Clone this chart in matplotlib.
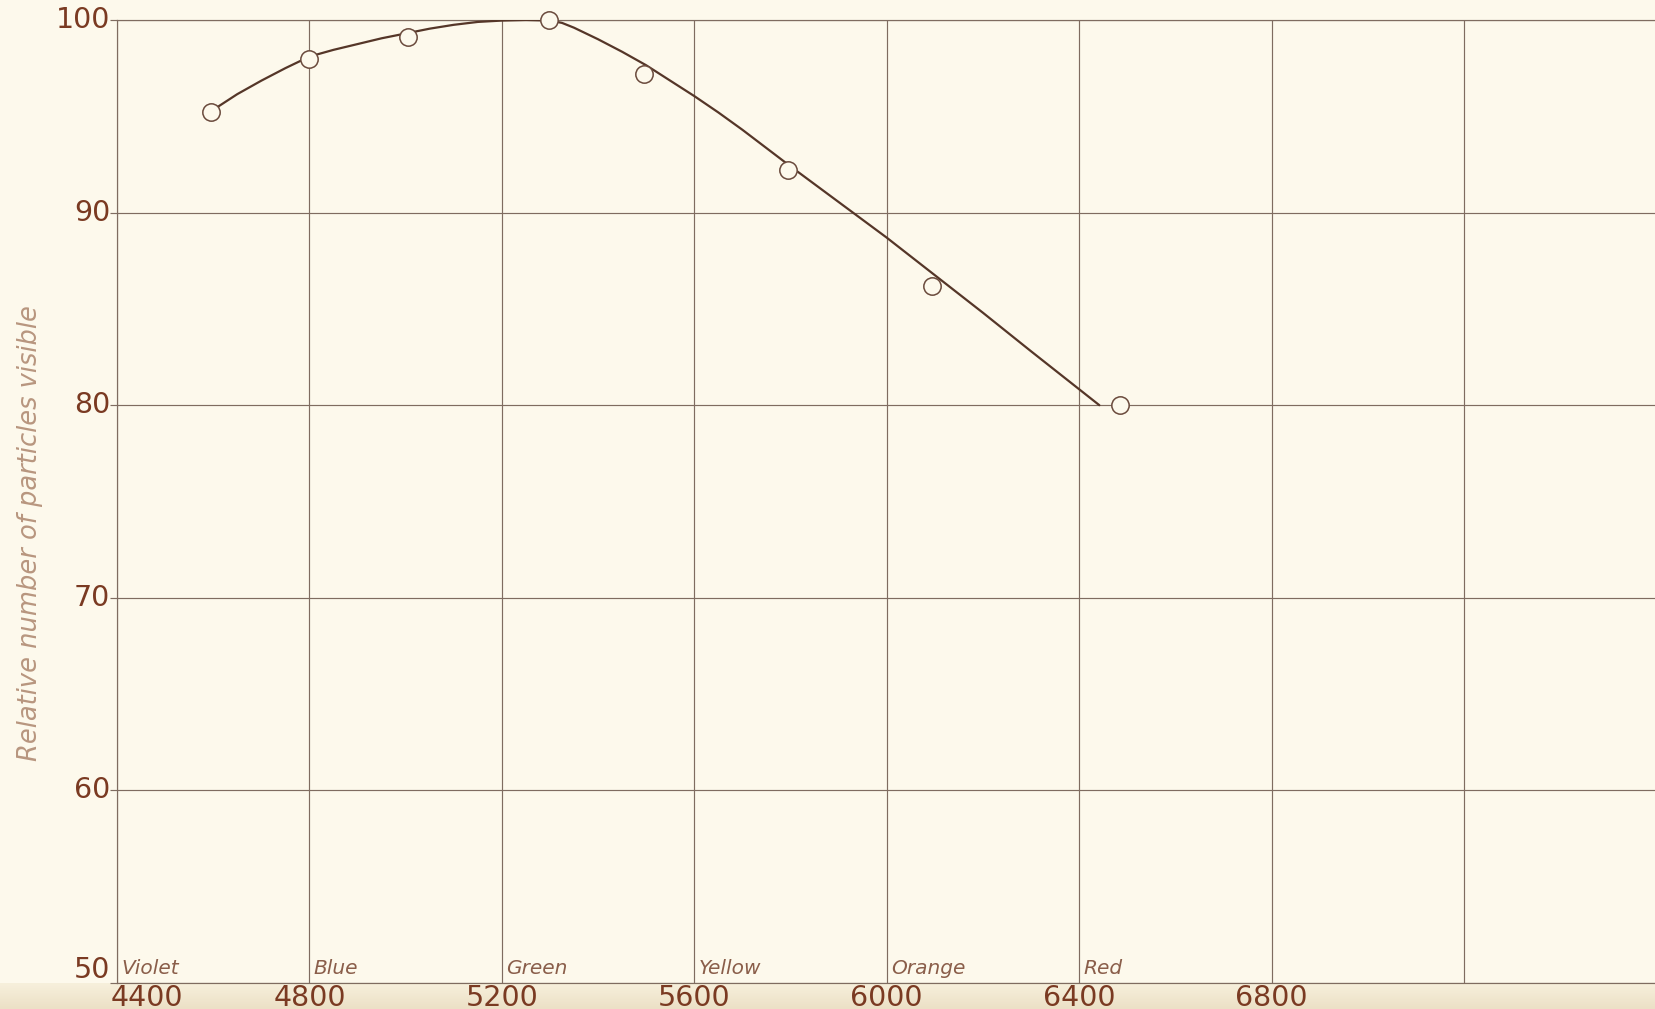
import numpy as np
import matplotlib
matplotlib.use("Agg")
import matplotlib.pyplot as plt
from matplotlib.transforms import offset_copy

# Relative visibility of particles against wavelength (Angstrom)
obs_wavelength = [4595, 4800, 5005, 5298, 5495, 5795, 6095, 6485]
obs_visible = [95.2, 98.0, 99.1, 100.0, 97.2, 92.2, 86.2, 80.0]

# Hand-faired curve through the observations
curve_wavelength = [4610, 4650, 4700, 4750, 4800, 4850, 4900, 4950, 5000,
                    5050, 5100, 5150, 5200, 5250, 5300, 5325, 5350, 5400,
                    5450, 5500, 5550, 5600, 5650, 5700, 5800, 5900, 6000,
                    6100, 6200, 6300, 6442]
curve_visible = [95.5, 96.15, 96.85, 97.5, 98.1, 98.45, 98.75, 99.05, 99.3,
                 99.55, 99.75, 99.9, 99.97, 100.0, 99.97, 99.85, 99.6, 99.0,
                 98.35, 97.65, 96.85, 96.05, 95.2, 94.3, 92.4, 90.55, 88.7,
                 86.75, 84.8, 82.8, 80.0]

x_ticks = [4400, 4800, 5200, 5600, 6000, 6400, 6800]
x_grid = [4400, 4800, 5200, 5600, 6000, 6400, 6800, 7200]
y_ticks = [50, 60, 70, 80, 90, 100]
colour_names = ["Violet", "Blue", "Green", "Yellow", "Orange", "Red"]
colour_starts = [4400, 4800, 5200, 5600, 6000, 6400]

PAPER = "#FDF9EC"
GRID = "#7F6C60"
INK = "#553628"
LABEL = "#7A3A22"
NAME = "#8A5E4A"
AXLABEL = "#B8967F"

W, H = 1655, 1009
fig = plt.figure(figsize=(W / 100, H / 100), dpi=100, facecolor=PAPER)

# slightly darker paper below the chart frame
shade = fig.add_axes([0, 0, 1, 26 / H], zorder=0)
grad = np.linspace(0, 1, 50)[:, None, None]
top = np.array([247, 240, 220]) / 255
bot = np.array([236, 224, 198]) / 255
img = top * (1 - grad) + bot * grad
shade.imshow(np.repeat(img, 2, axis=1), aspect="auto", extent=[0, 1, 0, 1],
             origin="upper")
shade.set_axis_off()

left, bottom_px, top_px = 117, 983, 20
ax = fig.add_axes([left / W, (H - bottom_px) / H, (W - left) / W,
                   (bottom_px - top_px) / H], zorder=1)
ax.set_facecolor(PAPER)
ax.set_xlim(4400, 7597)
ax.set_ylim(50, 100)

for s in ["left", "bottom", "top"]:
    ax.spines[s].set_color(GRID)
    ax.spines[s].set_linewidth(0.85)
ax.spines["right"].set_visible(False)

ax.set_xticks(x_grid)
ax.set_yticks(y_ticks)
ax.tick_params(axis="x", length=0, labelbottom=False)
ax.tick_params(axis="y", length=5, width=0.85, color=GRID, labelleft=False)
ax.grid(True, color=GRID, linewidth=0.85)
ax.set_axisbelow(True)

# tick values
for v in x_ticks:
    dx = 30 if v == 4400 else 0
    tr = offset_copy(ax.transData, fig=fig, x=dx, y=-1, units="dots")
    ax.text(v, 50, str(v), transform=tr, ha="center", va="top",
            fontsize=20.5, color=LABEL, family="DejaVu Sans", clip_on=False)
for v in y_ticks:
    dy = 13 if v == 50 else 0
    tr = offset_copy(ax.transData, fig=fig, x=-7, y=dy, units="dots")
    ax.text(4400, v, str(v), transform=tr, ha="right", va="center",
            fontsize=20.5, color=LABEL, family="DejaVu Sans", clip_on=False)

# spectral colour names along the wavelength axis
for name, v in zip(colour_names, colour_starts):
    tr = offset_copy(ax.transData, fig=fig, x=4, y=9, units="dots")
    ax.text(v, 50, name, transform=tr, ha="left", va="baseline",
            fontsize=14.5, style="italic", color=NAME, family="DejaVu Sans")

fig.text(30 / W, 1 - 533 / H, "Relative number of particles visible",
         rotation=90, ha="center", va="center", fontsize=18.5,
         style="italic", color=AXLABEL, family="DejaVu Sans")

ax.plot(curve_wavelength, curve_visible, color=INK, linewidth=1.6,
        solid_capstyle="round", solid_joinstyle="round", zorder=3)
ax.plot(obs_wavelength, obs_visible, linestyle="none", marker="o",
        markersize=12.5, markerfacecolor=PAPER, markeredgecolor="#6A4A3C",
        markeredgewidth=1.1, zorder=4, clip_on=False)

fig.savefig("out.png", dpi=100, facecolor=PAPER)
